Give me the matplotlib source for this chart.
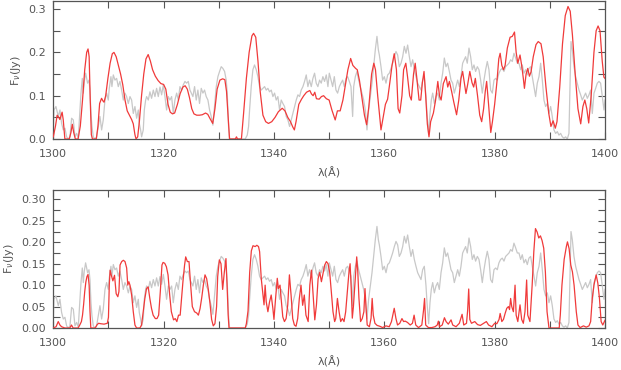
import matplotlib
matplotlib.use("Agg")
import matplotlib.pyplot as plt
from matplotlib.ticker import MultipleLocator, FormatStrFormatter

# ---------------- observed spectrum (gray, both panels) ----------------
obs_wave = [1300.0, 1300.12, 1300.48, 1300.91, 1301.21, 1301.51, 1301.81, 1302.11, 1302.42, 1302.72,
            1303.02, 1303.32, 1303.63, 1303.93, 1304.23, 1304.53, 1304.83, 1305.02, 1305.26, 1305.44,
            1305.62, 1305.86, 1306.04, 1306.22, 1306.47, 1306.65, 1306.83, 1307.01, 1307.25, 1307.55,
            1307.85, 1308.16, 1308.46, 1308.76, 1309.06, 1309.37, 1309.67, 1309.97, 1310.15, 1310.45,
            1310.63, 1310.88, 1311.18, 1311.48, 1311.78, 1312.08, 1312.39, 1312.69, 1312.99, 1313.29,
            1313.60, 1313.90, 1314.20, 1314.50, 1314.80, 1315.11, 1315.41, 1315.59, 1315.83, 1316.01,
            1316.31, 1316.50, 1316.74, 1316.92, 1317.22, 1317.52, 1317.82, 1318.13, 1318.43, 1318.73,
            1319.03, 1319.34, 1319.64, 1319.94, 1320.24, 1320.54, 1320.85, 1321.15, 1321.45, 1321.75,
            1322.05, 1322.36, 1322.66, 1322.96, 1323.26, 1323.56, 1323.87, 1324.17, 1324.47, 1324.77,
            1325.31, 1325.61, 1325.91, 1326.21, 1326.51, 1326.82, 1327.12, 1327.42, 1327.72, 1328.03,
            1328.33, 1328.63, 1328.93, 1329.23, 1329.54, 1329.84, 1330.14, 1330.44, 1330.74, 1331.05,
            1331.35, 1331.53, 1331.77, 1331.95, 1333.46, 1334.79, 1335.16, 1335.40, 1335.58, 1335.88,
            1336.18, 1336.48, 1336.79, 1337.09, 1337.39, 1337.69, 1338.00, 1338.30, 1338.60, 1338.90,
            1339.20, 1339.51, 1339.81, 1340.11, 1340.41, 1340.71, 1341.02, 1341.32, 1341.62, 1341.92,
            1342.22, 1342.53, 1342.83, 1343.13, 1343.43, 1343.74, 1344.04, 1344.34, 1344.64, 1344.94,
            1345.25, 1345.55, 1345.85, 1346.15, 1346.45, 1346.76, 1347.06, 1347.36, 1347.66, 1347.96,
            1348.27, 1348.57, 1348.87, 1349.17, 1349.48, 1349.78, 1350.03, 1350.34, 1350.64, 1350.94,
            1351.24, 1351.54, 1351.85, 1352.15, 1352.45, 1352.75, 1353.06, 1353.36, 1353.66, 1353.96,
            1354.26, 1354.45, 1354.75, 1355.05, 1355.35, 1355.65, 1355.96, 1356.26, 1356.56, 1356.86,
            1357.16, 1357.47, 1357.77, 1358.07, 1358.37, 1358.67, 1358.92, 1359.10, 1359.40, 1359.70,
            1360.00, 1360.31, 1360.61, 1360.91, 1361.21, 1361.51, 1361.82, 1362.12, 1362.42, 1362.72,
            1363.03, 1363.33, 1363.63, 1363.93, 1364.23, 1364.54, 1364.84, 1365.14, 1365.44, 1365.74,
            1366.05, 1366.35, 1366.65, 1366.95, 1367.25, 1367.56, 1367.74, 1368.04, 1368.28, 1368.52,
            1368.77, 1369.07, 1369.37, 1369.67, 1369.97, 1370.28, 1370.58, 1370.88, 1371.18, 1371.48,
            1371.79, 1372.09, 1372.39, 1372.69, 1372.99, 1373.30, 1373.60, 1373.90, 1374.20, 1374.74,
            1375.04, 1375.35, 1375.65, 1375.95, 1376.25, 1376.55, 1376.86, 1377.16, 1377.46, 1377.76,
            1378.07, 1378.37, 1378.67, 1378.97, 1379.27, 1379.58, 1379.88, 1380.18, 1380.48, 1380.78,
            1381.09, 1381.39, 1381.69, 1381.99, 1382.30, 1382.60, 1382.90, 1383.20, 1383.50, 1383.81,
            1384.11, 1384.41, 1384.71, 1385.01, 1385.32, 1385.62, 1385.92, 1386.22, 1386.52, 1386.83,
            1387.13, 1387.43, 1387.73, 1388.04, 1388.34, 1388.64, 1388.94, 1389.24, 1389.55, 1389.85,
            1390.15, 1390.45, 1390.75, 1391.06, 1391.36, 1391.66, 1391.96, 1392.27, 1392.57, 1392.87,
            1393.17, 1393.47, 1393.65, 1393.84, 1394.08, 1394.38, 1394.68, 1394.98, 1395.29, 1395.59,
            1395.89, 1396.19, 1396.49, 1396.80, 1397.10, 1397.40, 1397.70, 1398.01, 1398.31, 1398.61,
            1398.91, 1399.21, 1399.52, 1399.82, 1400.0]
obs_flux = [0.020, 0.067, 0.075, 0.052, 0.067, 0.036, 0.021, 0.025, 0.005, 0.000,
            0.005, 0.048, 0.044, 0.005, 0.013, 0.002, 0.067, 0.106, 0.140, 0.106,
            0.133, 0.152, 0.140, 0.129, 0.136, 0.113, 0.059, 0.029, 0.005, 0.000,
            0.005, 0.029, 0.052, 0.021, 0.044, 0.090, 0.106, 0.090, 0.117, 0.144,
            0.121, 0.148, 0.136, 0.140, 0.121, 0.133, 0.113, 0.090, 0.106, 0.098,
            0.082, 0.098, 0.090, 0.059, 0.075, 0.048, 0.067, 0.036, 0.021, 0.005,
            0.021, 0.067, 0.090, 0.098, 0.090, 0.109, 0.094, 0.113, 0.098, 0.117,
            0.098, 0.120, 0.102, 0.125, 0.098, 0.067, 0.098, 0.090, 0.098, 0.059,
            0.090, 0.106, 0.090, 0.121, 0.113, 0.125, 0.133, 0.129, 0.133, 0.113,
            0.098, 0.121, 0.090, 0.113, 0.082, 0.117, 0.106, 0.113, 0.098, 0.090,
            0.067, 0.052, 0.032, 0.075, 0.121, 0.144, 0.156, 0.167, 0.163, 0.156,
            0.136, 0.106, 0.029, 0.000, 0.000, 0.000, 0.009, 0.029, 0.067, 0.121,
            0.160, 0.171, 0.160, 0.144, 0.121, 0.113, 0.117, 0.121, 0.113, 0.117,
            0.109, 0.113, 0.098, 0.106, 0.090, 0.098, 0.067, 0.090, 0.082, 0.075,
            0.052, 0.044, 0.029, 0.044, 0.059, 0.075, 0.090, 0.102, 0.098, 0.113,
            0.121, 0.133, 0.148, 0.121, 0.136, 0.121, 0.140, 0.152, 0.129, 0.121,
            0.136, 0.129, 0.144, 0.133, 0.148, 0.121, 0.152, 0.136, 0.121, 0.144,
            0.113, 0.106, 0.121, 0.129, 0.136, 0.121, 0.140, 0.144, 0.133, 0.121,
            0.052, 0.121, 0.144, 0.156, 0.136, 0.121, 0.106, 0.090, 0.067, 0.021,
            0.067, 0.098, 0.129, 0.167, 0.206, 0.237, 0.206, 0.194, 0.167, 0.136,
            0.144, 0.129, 0.148, 0.152, 0.163, 0.175, 0.190, 0.202, 0.194, 0.167,
            0.175, 0.190, 0.214, 0.198, 0.217, 0.190, 0.167, 0.183, 0.160, 0.144,
            0.129, 0.121, 0.113, 0.136, 0.144, 0.098, 0.059, 0.010, 0.059, 0.090,
            0.106, 0.082, 0.098, 0.106, 0.090, 0.129, 0.152, 0.187, 0.167, 0.175,
            0.156, 0.136, 0.129, 0.106, 0.121, 0.136, 0.121, 0.144, 0.175, 0.190,
            0.175, 0.210, 0.190, 0.160, 0.171, 0.156, 0.167, 0.160, 0.136, 0.106,
            0.136, 0.160, 0.179, 0.160, 0.113, 0.106, 0.136, 0.140, 0.136, 0.152,
            0.160, 0.163, 0.156, 0.167, 0.171, 0.175, 0.183, 0.179, 0.198, 0.187,
            0.175, 0.175, 0.160, 0.171, 0.152, 0.160, 0.148, 0.163, 0.167, 0.144,
            0.121, 0.098, 0.129, 0.144, 0.175, 0.136, 0.090, 0.075, 0.082, 0.059,
            0.075, 0.052, 0.021, 0.013, 0.017, 0.009, 0.013, 0.005, 0.002, 0.005,
            0.000, 0.013, 0.121, 0.225, 0.206, 0.167, 0.144, 0.129, 0.113, 0.102,
            0.090, 0.098, 0.106, 0.094, 0.102, 0.113, 0.059, 0.106, 0.117, 0.129,
            0.133, 0.129, 0.098, 0.067, 0.090]

# ---------------- model 1 (red, top panel) ----------------
mod1_wave = [1300.0, 1300.4, 1300.7, 1301.0, 1301.2, 1301.6, 1301.8, 1302.1, 1302.9, 1303.2,
             1303.45, 1303.7, 1304.0, 1304.5, 1304.9, 1305.3, 1305.7, 1306.05, 1306.3, 1306.5,
             1306.7, 1306.9, 1307.1, 1307.8, 1308.1, 1308.4, 1308.75, 1309.0, 1309.2, 1309.5,
             1309.9, 1310.3, 1310.7, 1311.0, 1311.4, 1311.8, 1312.2, 1312.6, 1313.0, 1313.4,
             1313.8, 1314.2, 1314.5, 1314.8, 1315.0, 1315.3, 1315.6, 1316.0, 1316.4, 1316.8,
             1317.2, 1317.6, 1318.0, 1318.5, 1319.0, 1319.5, 1320.0, 1320.4, 1320.8, 1321.2,
             1321.6, 1322.0, 1322.5, 1323.0, 1323.5, 1323.9, 1324.3, 1324.7, 1325.1, 1325.5,
             1326.0, 1326.5, 1327.0, 1327.6, 1328.0, 1328.5, 1328.9, 1329.3, 1329.7, 1330.2,
             1330.7, 1331.1, 1331.4, 1331.7, 1331.95, 1333.0, 1333.2, 1333.4, 1334.1, 1334.5,
             1335.0, 1335.5, 1336.0, 1336.3, 1336.7, 1337.1, 1337.5, 1338.0, 1338.5, 1339.0,
             1339.6, 1340.2, 1340.8, 1341.5, 1342.0, 1342.5, 1343.0, 1343.4, 1343.7, 1344.0,
             1344.5, 1345.0, 1345.4, 1345.9, 1346.5, 1346.8, 1347.1, 1347.4, 1347.7, 1348.2,
             1348.6, 1349.0, 1349.5, 1350.0, 1350.5, 1351.1, 1351.5, 1352.0, 1352.5, 1352.9,
             1353.4, 1353.9, 1354.3, 1354.8, 1355.1, 1355.5, 1356.0, 1356.4, 1356.8, 1357.2,
             1357.7, 1358.1, 1358.4, 1358.8, 1359.4, 1359.8, 1360.2, 1360.6, 1361.0, 1361.4,
             1361.8, 1362.2, 1362.5, 1362.8, 1363.2, 1363.5, 1363.9, 1364.2, 1364.6, 1364.9,
             1365.3, 1365.6, 1365.9, 1366.3, 1366.6, 1366.9, 1367.2, 1367.5, 1367.8, 1368.1,
             1368.4, 1368.9, 1369.3, 1369.7, 1370.0, 1370.3, 1370.7, 1371.2, 1371.5, 1371.8,
             1372.2, 1372.6, 1373.1, 1373.5, 1373.9, 1374.2, 1374.5, 1374.8, 1375.1, 1375.5,
             1375.9, 1376.2, 1376.5, 1376.9, 1377.3, 1377.65, 1378.0, 1378.3, 1378.55, 1378.9,
             1379.3, 1379.6, 1380.0, 1380.4, 1380.75, 1381.0, 1381.3, 1381.6, 1381.9, 1382.3,
             1382.8, 1383.2, 1383.6, 1383.9, 1384.2, 1384.6, 1384.9, 1385.2, 1385.4, 1385.7,
             1386.0, 1386.3, 1386.6, 1387.0, 1387.5, 1387.9, 1388.4, 1388.8, 1389.3, 1389.8,
             1390.2, 1390.6, 1391.0, 1391.3, 1391.8, 1392.3, 1392.8, 1393.3, 1393.7, 1394.1,
             1394.6, 1395.1, 1395.6, 1396.0, 1396.35, 1396.7, 1397.05, 1397.5, 1398.0, 1398.4,
             1398.75, 1399.1, 1399.5, 1399.8, 1400.0]
mod1_flux = [0.005, 0.030, 0.055, 0.050, 0.045, 0.062, 0.045, 0.000, 0.000, 0.015,
             0.034, 0.015, 0.000, 0.000, 0.030, 0.090, 0.160, 0.200, 0.208, 0.190,
             0.090, 0.010, 0.000, 0.000, 0.030, 0.082, 0.094, 0.088, 0.085, 0.100,
             0.140, 0.175, 0.197, 0.200, 0.190, 0.170, 0.150, 0.125, 0.090, 0.065,
             0.055, 0.045, 0.035, 0.010, 0.000, 0.005, 0.040, 0.100, 0.150, 0.185,
             0.195, 0.180, 0.160, 0.145, 0.135, 0.128, 0.126, 0.115, 0.080, 0.062,
             0.058, 0.060, 0.080, 0.105, 0.120, 0.123, 0.115, 0.095, 0.070, 0.058,
             0.055, 0.055, 0.056, 0.060, 0.057, 0.045, 0.036, 0.070, 0.115, 0.136,
             0.139, 0.137, 0.110, 0.050, 0.000, 0.000, 0.005, 0.000, 0.000, 0.060,
             0.140, 0.200, 0.238, 0.244, 0.235, 0.180, 0.110, 0.055, 0.040, 0.036,
             0.040, 0.050, 0.063, 0.071, 0.065, 0.050, 0.040, 0.028, 0.021, 0.040,
             0.080, 0.092, 0.100, 0.108, 0.112, 0.104, 0.100, 0.108, 0.093, 0.092,
             0.098, 0.100, 0.093, 0.090, 0.067, 0.044, 0.065, 0.065, 0.090, 0.121,
             0.160, 0.186, 0.170, 0.163, 0.160, 0.135, 0.090, 0.055, 0.033, 0.075,
             0.150, 0.175, 0.160, 0.100, 0.021, 0.050, 0.080, 0.092, 0.130, 0.170,
             0.197, 0.160, 0.070, 0.060, 0.100, 0.160, 0.175, 0.145, 0.100, 0.090,
             0.150, 0.175, 0.140, 0.090, 0.090, 0.130, 0.156, 0.100, 0.035, 0.005,
             0.040, 0.060, 0.090, 0.133, 0.100, 0.090, 0.128, 0.144, 0.120, 0.133,
             0.110, 0.085, 0.056, 0.090, 0.140, 0.156, 0.130, 0.105, 0.125, 0.156,
             0.130, 0.120, 0.140, 0.100, 0.055, 0.040, 0.070, 0.110, 0.133, 0.080,
             0.015, 0.040, 0.080, 0.130, 0.185, 0.198, 0.170, 0.160, 0.170, 0.210,
             0.235, 0.237, 0.247, 0.200, 0.175, 0.194, 0.170, 0.140, 0.117, 0.150,
             0.163, 0.145, 0.155, 0.190, 0.218, 0.225, 0.220, 0.190, 0.120, 0.060,
             0.029, 0.042, 0.025, 0.040, 0.120, 0.220, 0.285, 0.306, 0.295, 0.240,
             0.150, 0.070, 0.035, 0.075, 0.090, 0.070, 0.037, 0.100, 0.200, 0.250,
             0.261, 0.250, 0.180, 0.143, 0.140]

# ---------------- model 2 (red, bottom panel) ----------------
mod2_wave = [1300.0, 1300.5, 1300.9, 1301.2, 1301.5, 1302.1, 1303.0, 1303.3, 1303.6, 1304.5,
             1304.8, 1305.1, 1305.3, 1305.5, 1305.7, 1305.9, 1306.1, 1306.3, 1306.5, 1306.65,
             1306.8, 1307.6, 1307.9, 1308.2, 1308.6, 1309.2, 1309.8, 1310.0, 1310.15, 1310.3,
             1310.5, 1310.8, 1311.1, 1311.4, 1311.7, 1311.9, 1312.1, 1312.4, 1312.7, 1313.0,
             1313.3, 1313.5, 1313.7, 1313.9, 1314.2, 1314.5, 1314.8, 1315.1, 1315.7, 1316.0,
             1316.3, 1316.6, 1316.9, 1317.2, 1317.5, 1317.8, 1318.1, 1318.5, 1318.8, 1319.1,
             1319.4, 1319.7, 1319.9, 1320.2, 1320.5, 1320.8, 1321.1, 1321.4, 1321.8, 1322.1,
             1322.4, 1322.7, 1323.0, 1323.2, 1323.5, 1323.8, 1324.0, 1324.3, 1324.6, 1324.9,
             1325.2, 1325.6, 1326.0, 1326.3, 1326.6, 1326.9, 1327.2, 1327.5, 1327.8, 1328.1,
             1328.4, 1328.7, 1329.0, 1329.3, 1329.6, 1329.8, 1330.1, 1330.4, 1330.7, 1331.0,
             1331.3, 1331.5, 1331.7, 1331.85, 1334.8, 1335.0, 1335.3, 1335.6, 1335.9, 1336.2,
             1336.6, 1336.9, 1337.2, 1337.4, 1337.7, 1338.0, 1338.2, 1338.4, 1338.6, 1338.9,
             1339.2, 1339.5, 1339.8, 1340.0, 1340.3, 1340.6, 1340.8, 1341.1, 1341.3, 1341.6,
             1341.9, 1342.2, 1342.5, 1342.8, 1343.1, 1343.4, 1343.7, 1344.0, 1344.3, 1344.6,
             1344.9, 1345.2, 1345.5, 1345.8, 1346.2, 1346.5, 1346.8, 1347.1, 1347.4, 1347.7,
             1348.0, 1348.3, 1348.6, 1348.9, 1349.2, 1349.5, 1349.8, 1350.1, 1350.4, 1350.7,
             1351.0, 1351.2, 1351.5, 1351.8, 1352.1, 1352.4, 1352.7, 1353.0, 1353.3, 1353.6,
             1353.8, 1354.0, 1354.2, 1354.4, 1354.7, 1355.0, 1355.2, 1355.4, 1355.7, 1356.0,
             1356.3, 1356.5, 1356.7, 1356.9, 1357.3, 1357.6, 1357.8, 1358.0, 1358.3, 1358.7,
             1359.2, 1359.7, 1360.3, 1360.9, 1361.3, 1361.8, 1362.1, 1362.4, 1362.8, 1363.2,
             1363.5, 1363.8, 1364.2, 1364.7, 1365.1, 1365.4, 1365.7, 1366.2, 1366.8, 1367.1,
             1367.3, 1367.5, 1368.0, 1368.6, 1369.2, 1369.6, 1369.8, 1370.0, 1370.5, 1370.9,
             1371.2, 1371.6, 1372.1, 1372.4, 1373.0, 1373.6, 1374.1, 1374.4, 1374.9, 1375.1,
             1375.3, 1375.5, 1375.8, 1376.4, 1376.9, 1377.4, 1378.0, 1378.5, 1378.9, 1379.5,
             1380.0, 1380.4, 1380.8, 1381.0, 1381.3, 1381.6, 1381.9, 1382.2, 1382.5, 1382.7,
             1382.9, 1383.1, 1383.4, 1383.7, 1383.9, 1384.2, 1384.6, 1384.9, 1385.2, 1385.5,
             1385.8, 1386.0, 1386.4, 1386.8, 1387.1, 1387.4, 1387.7, 1388.0, 1388.3, 1388.6,
             1388.9, 1389.2, 1389.5, 1389.85, 1391.7, 1391.9, 1392.2, 1392.6, 1393.0, 1393.2,
             1393.5, 1393.8, 1394.1, 1394.4, 1394.8, 1395.1, 1395.5, 1396.1, 1396.6, 1397.1,
             1397.4, 1397.7, 1398.0, 1398.4, 1398.7, 1399.0, 1399.3, 1399.6, 1400.0]
mod2_flux = [0.000, 0.003, 0.015, 0.007, 0.003, 0.000, 0.000, 0.007, 0.000, 0.000,
             0.007, 0.015, 0.030, 0.055, 0.085, 0.107, 0.120, 0.125, 0.100, 0.040,
             0.000, 0.000, 0.007, 0.011, 0.010, 0.009, 0.011, 0.025, 0.100, 0.135,
             0.124, 0.110, 0.123, 0.080, 0.073, 0.085, 0.147, 0.155, 0.158, 0.155,
             0.140, 0.100, 0.108, 0.100, 0.077, 0.038, 0.007, 0.000, 0.000, 0.007,
             0.038, 0.069, 0.092, 0.096, 0.069, 0.046, 0.030, 0.022, 0.022, 0.030,
             0.085, 0.147, 0.153, 0.151, 0.143, 0.124, 0.077, 0.038, 0.019, 0.022,
             0.015, 0.030, 0.030, 0.061, 0.108, 0.147, 0.166, 0.155, 0.155, 0.100,
             0.050, 0.038, 0.035, 0.030, 0.045, 0.070, 0.100, 0.124, 0.115, 0.090,
             0.058, 0.020, 0.005, 0.010, 0.050, 0.120, 0.159, 0.150, 0.090, 0.130,
             0.162, 0.100, 0.030, 0.000, 0.000, 0.010, 0.040, 0.130, 0.180, 0.192,
             0.190, 0.193, 0.190, 0.178, 0.115, 0.077, 0.054, 0.100, 0.061, 0.038,
             0.061, 0.077, 0.046, 0.020, 0.070, 0.116, 0.092, 0.100, 0.069, 0.026,
             0.015, 0.022, 0.054, 0.124, 0.077, 0.022, 0.007, 0.004, 0.022, 0.069,
             0.100, 0.053, 0.077, 0.030, 0.015, 0.100, 0.135, 0.077, 0.019, 0.054,
             0.115, 0.130, 0.108, 0.127, 0.147, 0.155, 0.150, 0.130, 0.085, 0.038,
             0.015, 0.022, 0.069, 0.038, 0.015, 0.022, 0.015, 0.038, 0.085, 0.131,
             0.150, 0.093, 0.023, 0.050, 0.110, 0.166, 0.130, 0.070, 0.015, 0.022,
             0.038, 0.092, 0.046, 0.007, 0.003, 0.023, 0.069, 0.030, 0.011, 0.006,
             0.004, 0.001, 0.005, 0.003, 0.015, 0.046, 0.023, 0.007, 0.011, 0.022,
             0.015, 0.016, 0.013, 0.007, 0.011, 0.030, 0.007, 0.001, 0.007, 0.040,
             0.069, 0.007, 0.001, 0.001, 0.003, 0.007, 0.016, 0.003, 0.007, 0.024,
             0.015, 0.009, 0.019, 0.007, 0.003, 0.011, 0.032, 0.007, 0.011, 0.040,
             0.091, 0.020, 0.011, 0.015, 0.008, 0.006, 0.011, 0.015, 0.007, 0.003,
             0.011, 0.010, 0.020, 0.034, 0.015, 0.020, 0.034, 0.046, 0.050, 0.043,
             0.069, 0.050, 0.038, 0.100, 0.030, 0.015, 0.054, 0.020, 0.011, 0.038,
             0.112, 0.030, 0.015, 0.100, 0.178, 0.232, 0.224, 0.210, 0.215, 0.204,
             0.186, 0.130, 0.038, 0.000, 0.000, 0.030, 0.100, 0.160, 0.190, 0.201,
             0.185, 0.147, 0.131, 0.100, 0.038, 0.007, 0.001, 0.005, 0.002, 0.005,
             0.015, 0.069, 0.100, 0.124, 0.105, 0.069, 0.015, 0.007, 0.018]

GRAY = "#c8c8c8"
RED = "#f03a3a"
AX = "#555555"

plt.rcParams["font.family"] = ["DejaVu Sans"]

fig = plt.figure(figsize=(6.21, 3.70), dpi=100)
ax1 = fig.add_axes([0.0858, 0.6243, 0.9742 - 0.0858, 0.9965 - 0.6243])
ax2 = fig.add_axes([0.0858, 0.1135, 0.9742 - 0.0858, 0.4865 - 0.1135])

panels = [
    (ax1, mod1_wave, mod1_flux, 0.318, 0.1, 0.05, "%.1f"),
    (ax2, mod2_wave, mod2_flux, 0.322, 0.05, 0.025, "%.2f"),
]
for ax, mw, mf, ymax, ymaj, ymin, fmt in panels:
    ax.plot(obs_wave, obs_flux, color=GRAY, lw=0.9, zorder=2)
    ax.plot(mw, mf, color=RED, lw=0.9, zorder=3)
    ax.set_xlim(1300, 1400)
    ax.set_ylim(0, ymax)
    ax.xaxis.set_major_locator(MultipleLocator(20))
    ax.xaxis.set_minor_locator(MultipleLocator(10))
    ax.yaxis.set_major_locator(MultipleLocator(ymaj))
    ax.yaxis.set_minor_locator(MultipleLocator(ymin))
    ax.yaxis.set_major_formatter(FormatStrFormatter(fmt))
    ax.tick_params(which="both", direction="in", top=True, right=True,
                   length=5, width=0.8, color=AX, labelcolor=AX, labelsize=8)
    ax.tick_params(axis="x", pad=7)
    ax.tick_params(axis="y", pad=5)
    for s in ax.spines.values():
        s.set_color(AX)
        s.set_linewidth(0.9)
    ax.set_xlabel("λ(Å)", color=AX, fontsize=8, labelpad=6)
    ax.set_ylabel(r"F$_{\nu}$(Jy)", color=AX, fontsize=8, labelpad=4)

fig.savefig("out.png", dpi=100)
